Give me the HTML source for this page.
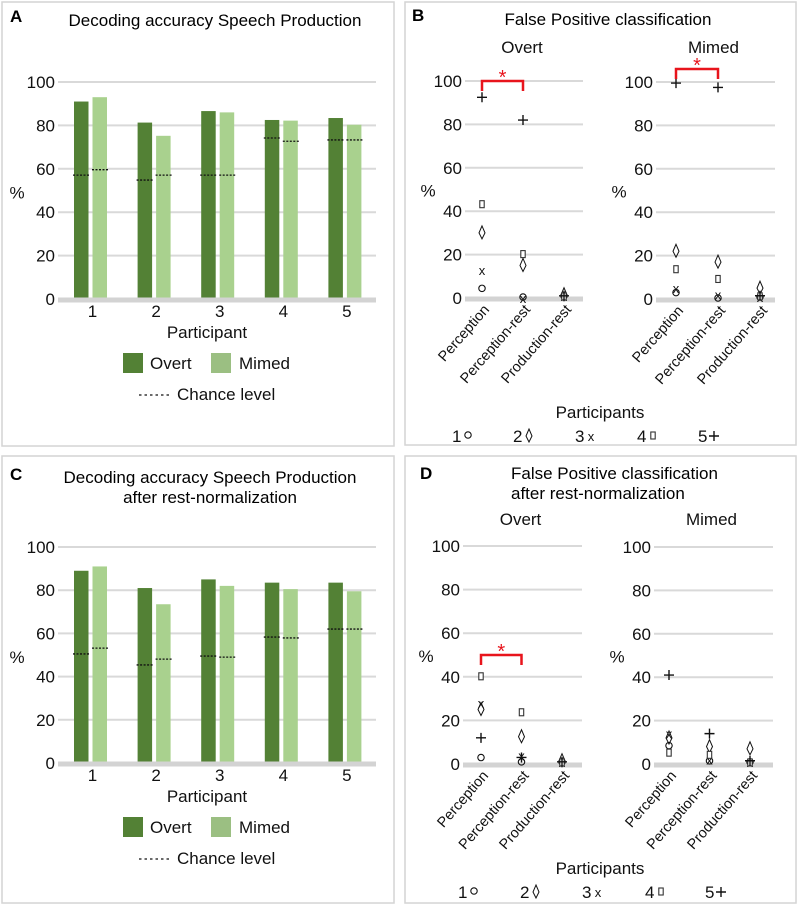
<!DOCTYPE html>
<html><head><meta charset="utf-8"><style>
html,body{margin:0;padding:0;background:#fff;}
svg{display:block;font-family:"Liberation Sans",sans-serif;}
</style></head><body>
<svg id="fig" width="798" height="905" viewBox="0 0 798 905" xmlns="http://www.w3.org/2000/svg">
<rect x="2" y="2" width="392" height="444" fill="none" stroke="#d4d4d4" stroke-width="1.5"/>
<rect x="405" y="2" width="391" height="443" fill="none" stroke="#d4d4d4" stroke-width="1.5"/>
<rect x="2" y="456" width="392" height="447" fill="none" stroke="#d4d4d4" stroke-width="1.5"/>
<rect x="405" y="456" width="391" height="447" fill="none" stroke="#d4d4d4" stroke-width="1.5"/>
<text x="10" y="22" font-size="17" font-weight="bold">A</text>
<text x="215" y="26" font-size="17" text-anchor="middle">Decoding accuracy Speech Production</text>
<text x="412" y="21" font-size="17" font-weight="bold">B</text>
<text x="608" y="25" font-size="17" text-anchor="middle">False Positive classification</text>
<text x="10" y="480" font-size="17" font-weight="bold">C</text>
<text x="210" y="483" font-size="17" text-anchor="middle">Decoding accuracy Speech Production</text>
<text x="210" y="503" font-size="17" text-anchor="middle">after rest-normalization</text>
<text x="420" y="479" font-size="17" font-weight="bold">D</text>
<text x="511" y="479" font-size="17">False Positive classification</text>
<text x="511" y="499" font-size="17">after rest-normalization</text>
<g id="layer"></g>
</svg>
<script>
// ---- Panel A data ----
var participants = ["1","2","3","4","5"];
var yTicks = [0,20,40,60,80,100];
var aOvert = [91,81.3,86.6,82.5,83.4];
var aMimed = [93,75.2,86,82.2,80.3];
var aChanceOvert = [57.1,54.8,57.1,74.2,73.3];
var aChanceMimed = [59.6,57.1,57.1,72.7,73.3];
// ---- Panel C data ----
var cOvert = [89,81,85,83.5,83.5];
var cMimed = [91,73.5,82,80.5,79.5];
var cChanceOvert = [50.5,45.4,49.5,58.3,62];
var cChanceMimed = [53.2,48.1,49,57.9,62];
// ---- Scatter data (participants 1..5) ----
var conditions = ["Perception","Perception-rest","Production-rest"];
var markerLabels = ["1","2","3","4","5"];
var bOvertPerception = [4,30,13,43,92.5];
var bOvertPercRest = [0,15,0,20,82];
var bOvertProdRest = [0.5,1.5,1,0.5,1];
var bMimedPerception = [2.5,22,5,13.5,99.5];
var bMimedPercRest = [0,17,2,9,97.5];
var bMimedProdRest = [0.5,5,1,1,1.5];
var dOvertPerception = [2.5,25,28,40,12];
var dOvertPercRest = [0.5,12.5,4,23.5,3];
var dOvertProdRest = [0.5,1.5,1,0.5,1];
var dMimedPerception = [8,12,14,5,41];
var dMimedPercRest = [1,8,2,4,14];
var dMimedProdRest = [0.5,7,1,0.5,1.5];

var NS="http://www.w3.org/2000/svg";
var layer=document.getElementById('layer');
function mk(tag,attrs,parent){var e=document.createElementNS(NS,tag);for(var k in attrs)e.setAttribute(k,attrs[k]);(parent||layer).appendChild(e);return e;}
function txt(x,y,s,size,anchor,parent){var t=mk('text',{x:x,y:y,'font-size':size,'text-anchor':anchor||'start',fill:'#111'},parent);t.textContent=s;return t;}

function barChart(ov,mi,chO,chM,y0,y100,prefix){
  var g=mk('g',{});
  
  
  function Y(v){return y0-(y0-y100)*v/100;}
  function X(i){return 90.5+63.6*i;}
  yTicks.forEach(function(t){
    if(t>0){var l=mk('line',{x1:58,x2:376,y1:Y(t),y2:Y(t),stroke:'#d9d9d9','stroke-width':2},g);
      
      }
    var tl=txt(55,Y(t)+6,String(t),17,'end',g);
    
    
  });
  var yt=txt(17,(y0+y100)/2+8,'%',17,'middle',g);
  
  
  participants.forEach(function(p,i){
    var b1=mk('rect',{x:X(i)-16.5,y:Y(ov[i]),width:14.5,height:Y(0)-Y(ov[i]),fill:'#538135'},g);
    
    
    var b2=mk('rect',{x:X(i)+2,y:Y(mi[i]),width:14.5,height:Y(0)-Y(mi[i]),fill:'#a9d18e'},g);
    
    
    var c1=mk('line',{x1:X(i)-17.5,x2:X(i)-1.5,y1:Y(chO[i]),y2:Y(chO[i]),stroke:'#111','stroke-width':1.3,'stroke-dasharray':'2,1.5'},g);
    
    
    var c2=mk('line',{x1:X(i)+1.5,x2:X(i)+17.5,y1:Y(chM[i]),y2:Y(chM[i]),stroke:'#111','stroke-width':1.3,'stroke-dasharray':'2,1.5'},g);
    
    
    var xl=txt(X(i)+2,y0+18,p,17,'middle',g);
    
    
  });
  var base=mk('line',{x1:58,x2:376,y1:y0+1,y2:y0+1,stroke:'#d3d3d3','stroke-width':5},g);
  
  
  var xt=txt(207,y0+39,'Participant',17,'middle',g);
  
  
  var ly=y0+54;
  var lb1=mk('rect',{x:123,y:ly,width:20,height:20,fill:'#538135'},g);
  
  
  var lt1=txt(150,ly+16,'Overt',17,'start',g);
  
  
  var lb2=mk('rect',{x:211,y:ly,width:20,height:20,fill:'#9bbf82'},g);
  
  
  var lt2=txt(239,ly+16,'Mimed',17,'start',g);
  
  
  var ll=mk('line',{x1:139,x2:170,y1:ly+42,y2:ly+42,stroke:'#111','stroke-width':1.3,'stroke-dasharray':'2.5,3'},g);
  
  
  var lt3=txt(177,ly+47,'Chance level',17,'start',g);
  
  
}

function marker(type,x,y,g){
  var e;
  if(type===0){e=mk('circle',{cx:x,cy:y-1,r:3.2,fill:'none',stroke:'#111','stroke-width':1.1},g);}
  else if(type===1){e=mk('path',{d:'M'+x+','+(y-7)+' L'+(x+3)+','+y+' L'+x+','+(y+6)+' L'+(x-3)+','+y+' Z',fill:'none',stroke:'#111','stroke-width':1},g);}
  else if(type===2){e=txt(x,y+5,'x',13,'middle',g);}
  else if(type===3){e=mk('rect',{x:x-2.2,y:y-4,width:4.4,height:7,fill:'#fff',stroke:'#333','stroke-width':1.1},g);}
  else {e=mk('path',{d:'M'+(x-5)+','+y+' H'+(x+5)+' M'+x+','+(y-5)+' V'+(y+5),stroke:'#111','stroke-width':1.4,fill:'none'},g);}
  
  
  return e;
}

function scatter(series,cfg,prefix){
  var g=mk('g',{});
  
  
  function Y(v){return cfg.y0-(cfg.y0-cfg.y100)*v/100;}
  function X(i){return cfg.cx0+cfg.dx*i;}
  yTicks.forEach(function(t){
    if(t>0){var l=mk('line',{x1:cfg.gx1,x2:cfg.gx2,y1:Y(t),y2:Y(t),stroke:'#d9d9d9','stroke-width':2},g);
      
      }
    var tl=txt(cfg.gx1-3,Y(t)+6,String(t),17,'end',g);
    
    
  });
  var base=mk('line',{x1:cfg.gx1,x2:cfg.gx2,y1:cfg.y0+1,y2:cfg.y0+1,stroke:'#d3d3d3','stroke-width':5},g);
  
  
  var yt=txt(cfg.gx1-37,Y(50)+7,'%',17,'middle',g);
  
  
  var st=txt((cfg.gx1+cfg.gx2)/2-2,cfg.subY,cfg.sub,17,'middle',g);
  
  
  conditions.forEach(function(c,i){
    var lab=txt(0,0,c,14.5,'end',g);
    lab.setAttribute('transform','translate('+(X(i)+8)+','+(cfg.y0+12)+') rotate(-49)');
    
    
    series[i].forEach(function(v,k){marker(k,X(i),Y(v),g);});
  });
  if(cfg.br){
    var b=cfg.br, yb=Y(b.top);
    var p=mk('path',{d:'M'+X(0)+','+(yb+10)+' V'+yb+' H'+X(1)+' V'+(yb+10),fill:'none',stroke:'#e8141c','stroke-width':2.5},g);
    
    
    var s=mk('text',{x:(X(0)+X(1))/2,y:yb+3,'font-size':20,'text-anchor':'middle',fill:'#e8141c'},g);
    s.textContent='*';
    
    
  }
}

function scatterLegend(y,xs,prefix){
  var g=mk('g',{});
  
  
  var t=txt(600,y,'Participants',17,'middle',g);
  
  
  markerLabels.forEach(function(m,k){
    var lt=txt(xs[k],y+24,k===4?'5':m,17,'start',g);
    
    
    marker(k,xs[k]+16,y+18,g);
  });
}

barChart(aOvert,aMimed,aChanceOvert,aChanceMimed,299,82,'panel-a');
barChart(cOvert,cMimed,cChanceOvert,cChanceMimed,763,547,'panel-c');

scatter([bOvertPerception,bOvertPercRest,bOvertProdRest],{y0:298,y100:81,gx1:465,gx2:583,cx0:482,dx:41,sub:'Overt',subY:53,br:{top:100}},'panel-b-overt');
scatter([bMimedPerception,bMimedPercRest,bMimedProdRest],{y0:299,y100:82,gx1:656,gx2:775,cx0:676,dx:42,sub:'Mimed',subY:53,br:{top:106}},'panel-b-mimed');
scatter([dOvertPerception,dOvertPercRest,dOvertProdRest],{y0:764,y100:546,gx1:463,gx2:582,cx0:481,dx:40.5,sub:'Overt',subY:525,br:{top:50}},'panel-d-overt');
scatter([dMimedPerception,dMimedPercRest,dMimedProdRest],{y0:764,y100:547,gx1:654,gx2:773,cx0:669,dx:40.5,sub:'Mimed',subY:525},'panel-d-mimed');

scatterLegend(418,[452,513,575,637,698],'panel-b');
scatterLegend(874,[458,520,582,645,705],'panel-d');
</script>
</body></html>
